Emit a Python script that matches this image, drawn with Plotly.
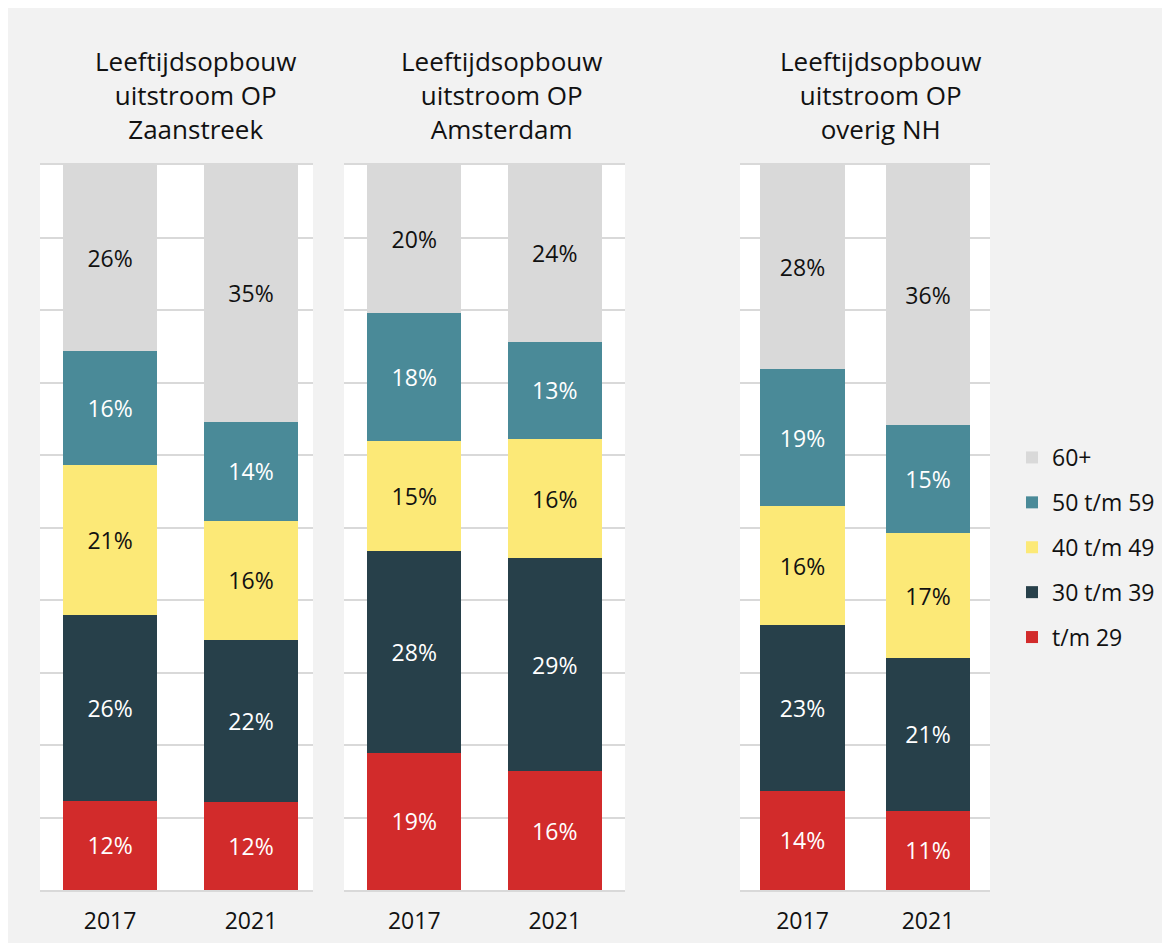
import plotly.graph_objects as go

W, H = 1162, 935   # page body adds an 8px margin on top/left
OFF = 8

years = ["2017", "2021"]
regions = ["Zaanstreek", "Amsterdam", "overig NH"]
titles = ["Leeftijdsopbouw<br>uitstroom OP<br>Zaanstreek",
          "Leeftijdsopbouw<br>uitstroom OP<br>Amsterdam",
          "Leeftijdsopbouw<br>uitstroom OP<br>overig NH"]

categories = ["t/m 29", "30 t/m 39", "40 t/m 49", "50 t/m 59", "60+"]
colors = ["#d22b2b", "#27404a", "#fce977", "#4a8a98", "#d9d9d9"]
text_colors = ["white", "white", "#111111", "white", "#111111"]
legend_rank = [5, 4, 3, 2, 1]

# percentages per region, per category: [2017, 2021]
zaanstreek = {
    "t/m 29": [12.3, 12.1],
    "30 t/m 39": [25.6, 22.4],
    "40 t/m 49": [20.7, 16.4],
    "50 t/m 59": [15.7, 13.7],
    "60+": [25.7, 35.4],
}
amsterdam = {
    "t/m 29": [18.9, 16.4],
    "30 t/m 39": [27.9, 29.4],
    "40 t/m 49": [15.1, 16.4],
    "50 t/m 59": [17.7, 13.4],
    "60+": [20.4, 24.4],
}
overig_nh = {
    "t/m 29": [13.7, 10.9],
    "30 t/m 39": [22.8, 21.1],
    "40 t/m 49": [16.4, 17.2],
    "50 t/m 59": [18.9, 15.0],
    "60+": [28.2, 35.8],
}
data = [zaanstreek, amsterdam, overig_nh]

FONT = "Open Sans"

def px_x(p):
    return (p - OFF) / W

def px_y(p):
    return (H - (p - OFF)) / H

x_domains = [(px_x(40), px_x(313)), (px_x(344), px_x(625)), (px_x(740), px_x(990))]
x_ranges = [[-0.497, 1.44], [-0.5, 1.5], [-0.498, 1.494]]
y_domain = (px_y(890), px_y(165))
title_x = [195, 501, 880]

fig = go.Figure()
for i, d in enumerate(data):
    ax = "" if i == 0 else str(i + 1)
    for j, cat in enumerate(categories):
        fig.add_trace(go.Bar(
            x=years, y=d[cat], name=cat,
            xaxis="x" + ax, yaxis="y" + ax,
            marker=dict(color=colors[j], line=dict(width=0)),
            text=[f"{v:.0f}%" for v in d[cat]],
            textposition="inside", insidetextanchor="middle", textangle=0,
            textfont=dict(color=text_colors[j], size=23, family=FONT),
            showlegend=(i == 0), legendgroup=cat, legendrank=legend_rank[j],
            hoverinfo="skip",
        ))

layout = dict(
    width=W, height=H,
    margin=dict(l=0, r=0, t=0, b=0),
    paper_bgcolor="#f2f2f2", plot_bgcolor="white",
    barmode="stack", bargap=0.33,
    font=dict(family=FONT, color="#111111"),
    legend=dict(x=px_x(1012), y=px_y(436), xanchor="left", yanchor="top",
                traceorder="grouped", tracegroupgap=12,
                font=dict(size=23, family=FONT, color="#111111"),
                bgcolor="rgba(0,0,0,0)", itemwidth=30),
    uniformtext=dict(minsize=23, mode="show"),
)
annotations = []
for i in range(3):
    ax = "" if i == 0 else str(i + 1)
    layout["xaxis" + ax] = dict(
        domain=x_domains[i], anchor="y" + ax, range=x_ranges[i], type="category",
        showgrid=False, showline=True, mirror=True, linecolor="#d9d9d9", linewidth=2,
        ticks="outside", ticklen=9, tickcolor="rgba(0,0,0,0)",
        tickfont=dict(size=23, family=FONT, color="#111111"), fixedrange=True,
    )
    layout["yaxis" + ax] = dict(
        domain=y_domain, anchor="x" + ax, range=[0, 100], dtick=10,
        showgrid=True, gridcolor="#d9d9d9", gridwidth=2, zeroline=False,
        showticklabels=False, ticks="", fixedrange=True,
    )
    annotations.append(dict(
        text=titles[i], x=px_x(title_x[i]), y=px_y(95), xref="paper", yref="paper",
        xanchor="center", yanchor="middle", showarrow=False, align="center",
        font=dict(size=26, family=FONT, color="#111111"),
    ))
layout["annotations"] = annotations
fig.update_layout(**layout)
fig.write_html("out.html", config={"displayModeBar": False})
